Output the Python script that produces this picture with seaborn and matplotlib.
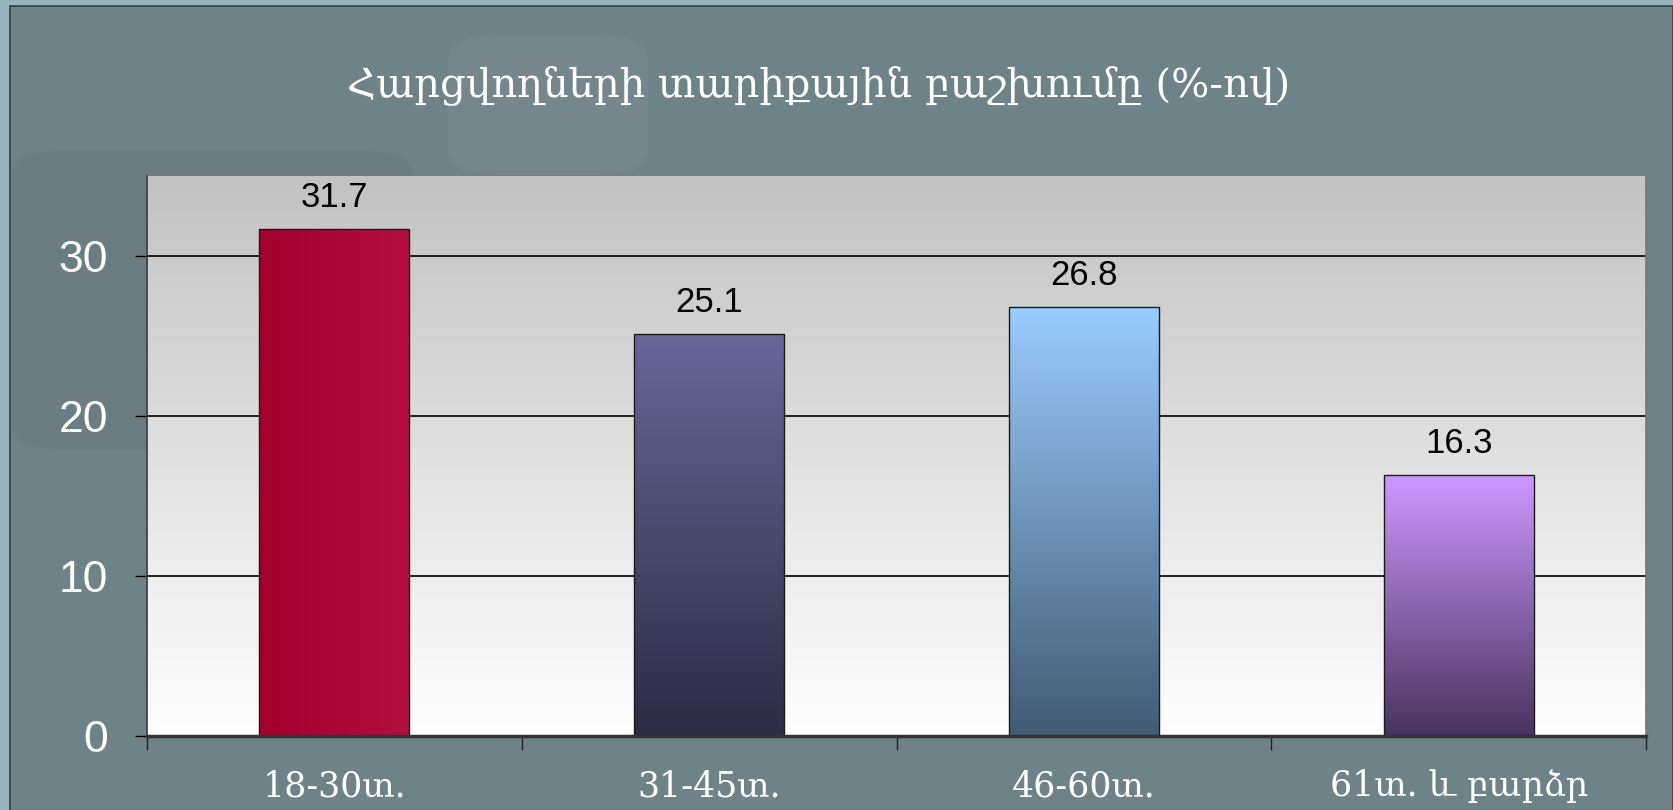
import matplotlib
matplotlib.use("Agg")
import matplotlib.pyplot as plt
import matplotlib.patches as mpatches
from matplotlib.colors import LinearSegmentedColormap
import numpy as np
import pandas as pd
import seaborn as sns

# data
age_groups = ["18-30տ.", "31-45տ.", "46-60տ.", "61տ. և բարձր"]
shares = [31.7, 25.1, 26.8, 16.3]
title = "Հարցվողների տարիքային բաշխումը (%-ով)"

# (start colour, end colour, direction) of each bar's gradient
bar_gradients = [("#a3002d", "#b20f42", "h"), ("#2c2c44", "#67679a", "v"),
                 ("#445a73", "#99ccff", "v"), ("#48335e", "#cc99ff", "v")]

sns.set_theme(style="white")
plt.rcParams["font.family"] = ["Liberation Sans", "DejaVu Sans"]
serif = ["DejaVu Serif", "DejaVu Sans"]

df = pd.DataFrame({"group": age_groups, "share": shares})

W, H = 1673, 810
fig = plt.figure(figsize=(W / 100, H / 100), dpi=100)
fig.patch.set_facecolor("#9ab2bb")

# slide panel with thin dark frame
fig.add_artist(mpatches.Rectangle((10 / W, -0.01), (W - 10) / W, 1 - 6 / H + 0.01,
                                  transform=fig.transFigure, facecolor="#6f8288",
                                  edgecolor="#33403f", lw=1.2, zorder=0))
# faint decorative shapes of the slide background
fig.add_artist(mpatches.FancyBboxPatch((448 / W, 1 - 175 / H), 200 / W, 140 / H,
                                       boxstyle="round,pad=0,rounding_size=0.03",
                                       transform=fig.transFigure, facecolor="white",
                                       alpha=0.045, edgecolor="none", zorder=0))
fig.add_artist(mpatches.FancyBboxPatch((12 / W, 1 - 450 / H), 400 / W, 300 / H,
                                       boxstyle="round,pad=0,rounding_size=0.03",
                                       transform=fig.transFigure, facecolor="black",
                                       alpha=0.035, edgecolor="none", zorder=0))

ax = fig.add_axes([147 / W, 1 - 736 / H, 1499 / W, 560 / H])
sns.barplot(data=df, x="group", y="share", width=0.4, ax=ax,
            edgecolor="#1a1a1a", linewidth=1, zorder=3)

# grey-to-white background of the plot area
bg_cmap = LinearSegmentedColormap.from_list("bg", ["#ffffff", "#c2c2c2"])
ax.imshow(np.linspace(0, 1, 256).reshape(-1, 1), cmap=bg_cmap, aspect="auto",
          origin="lower", extent=[0, 1, 0, 1], transform=ax.transAxes, zorder=0)

# gradients inside each bar
for patch, (c0, c1, direction), val in zip(ax.patches, bar_gradients, shares):
    x0, y0 = patch.get_x(), patch.get_y()
    w, h = patch.get_width(), patch.get_height()
    cmap = LinearSegmentedColormap.from_list("g", [c0, c1])
    grad = np.linspace(0, 1, 256)
    grad = grad.reshape(1, -1) if direction == "h" else grad.reshape(-1, 1)
    im = ax.imshow(grad, cmap=cmap, aspect="auto", origin="lower",
                   extent=[x0, x0 + w, y0, y0 + h], zorder=3)
    im.set_clip_path(patch)
    patch.set_facecolor("none")
    patch.set_zorder(4)
    ax.annotate(f"{val}", (x0 + w / 2, val), xytext=(0, 11), textcoords="offset points",
                ha="center", va="bottom", fontsize=25, color="black", zorder=5)

ax.set_xlim(-0.5, 3.5)
ax.set_ylim(0, 35)

for yv in [10, 20, 30]:
    ax.axhline(yv, color="black", lw=1.2, zorder=2)

ax.set_yticks([0, 10, 20, 30])
ax.tick_params(axis="y", which="major", direction="out", length=9, width=1,
               color="black", left=True, labelsize=32, labelcolor="white", pad=19)

# category boundaries as ticks, labels at the centres
ax.set_xticks([-0.5, 0.5, 1.5, 2.5, 3.5])
ax.set_xticklabels([])
ax.set_xticks(range(len(age_groups)), minor=True)
ax.set_xticklabels(age_groups, minor=True, fontsize=25, color="white", family=serif)
ax.tick_params(axis="x", which="major", direction="out", length=10, width=1,
               color="#222222", bottom=True)
ax.tick_params(axis="x", which="minor", length=0, pad=24)

ax.set_xlabel("")
ax.set_ylabel("")
ax.grid(False)
ax.spines["left"].set_color("#3a3a3a")
ax.spines["left"].set_linewidth(1.2)
ax.spines["right"].set_color("#7a7a7a")
ax.spines["right"].set_linewidth(2)
ax.spines["top"].set_visible(False)
ax.spines["bottom"].set_color("#333333")
ax.spines["bottom"].set_linewidth(2.5)
ax.spines["bottom"].set_zorder(6)

fig.text(0.489, 0.894, title, ha="center", va="center", fontsize=29,
         color="white", family=serif)

fig.savefig("out.png", dpi=100, facecolor=fig.get_facecolor())
